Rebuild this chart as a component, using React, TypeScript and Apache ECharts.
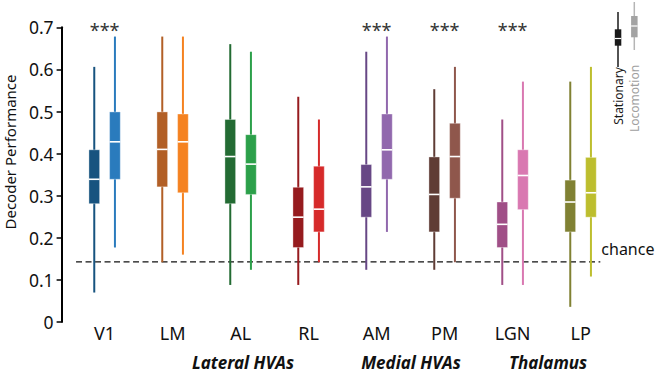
import React, { useEffect, useRef } from "react";
import * as echarts from "echarts";

const categories = ["V1", "LM", "AL", "RL", "AM", "PM", "LGN", "LP"];
// [min, q1, median, q3, max]
const stationary = [
  [0.07, 0.281, 0.339, 0.409, 0.606],
  [0.142, 0.321, 0.41, 0.499, 0.678],
  [0.088, 0.281, 0.393, 0.481, 0.66],
  [0.088, 0.177, 0.249, 0.32, 0.535],
  [0.124, 0.249, 0.321, 0.374, 0.642],
  [0.124, 0.214, 0.303, 0.392, 0.553],
  [0.088, 0.177, 0.232, 0.285, 0.481],
  [0.036, 0.214, 0.285, 0.337, 0.571],
];
const locomotion = [
  [0.177, 0.339, 0.428, 0.499, 0.678],
  [0.16, 0.307, 0.428, 0.494, 0.678],
  [0.124, 0.303, 0.375, 0.445, 0.642],
  [0.142, 0.214, 0.268, 0.37, 0.481],
  [0.214, 0.339, 0.409, 0.494, 0.678],
  [0.142, 0.294, 0.393, 0.472, 0.606],
  [0.088, 0.267, 0.348, 0.409, 0.571],
  [0.108, 0.249, 0.307, 0.391, 0.606],
];
const stationaryColors = ["#17537f", "#b25f26", "#236b33", "#961b1e", "#674785", "#5f3c35", "#a04f87", "#808133"];
const locomotionColors = ["#2a7bbd", "#f58220", "#2ca04a", "#d62a2a", "#9168ad", "#8f574c", "#d978b1", "#bdbe2e"];
const significant = [true, false, false, false, true, true, true, false];
const chanceLevel = 1 / 7;
const yTicks = [0, 0.1, 0.2, 0.3, 0.4, 0.5, 0.6, 0.7];
const groups = [
  { name: "Lateral HVAs", x: 243 },
  { name: "Medial HVAs", x: 411 },
  { name: "Thalamus", x: 548 },
];

const FONT = "Noto Sans";

function boxRender(colors: string[], offFrac: number) {
  return (params: any, api: any) => {
    const idx = api.value(0);
    const lo = api.coord([idx, api.value(1)]);
    const q1 = api.coord([idx, api.value(2)]);
    const med = api.coord([idx, api.value(3)]);
    const q3 = api.coord([idx, api.value(4)]);
    const hi = api.coord([idx, api.value(5)]);
    const band = api.size([1, 0])[0];
    const x = lo[0] + offFrac * band;
    const bw = band * 0.157;
    const color = colors[params.dataIndex];
    return {
      type: "group",
      children: [
        { type: "line", shape: { x1: x, y1: hi[1], x2: x, y2: lo[1] }, style: { stroke: color, lineWidth: 2 } },
        {
          type: "rect",
          shape: { x: x - bw / 2, y: q3[1], width: bw, height: q1[1] - q3[1] },
          style: { fill: color, stroke: "rgba(255,255,255,0.35)", lineWidth: 1 },
        },
        { type: "line", shape: { x1: x - bw / 2, y1: med[1], x2: x + bw / 2, y2: med[1] }, style: { stroke: "#ffffff", lineWidth: 1.6 } },
      ],
    };
  };
}

export default function App() {
  const ref = useRef<HTMLDivElement>(null);
  useEffect(() => {
    if (!ref.current) return;
    const chart = echarts.init(ref.current, null, { renderer: "svg" });
    const statData = stationary.map((r, i) => [i, ...r]);
    const locoData = locomotion.map((r, i) => [i, ...r]);
    const sigData = significant.map((s, i) => (s ? [i, yTicks[yTicks.length - 1]] : null)).filter(Boolean);
    chart.setOption({
      animation: false,
      backgroundColor: "#ffffff",
      textStyle: { fontFamily: FONT },
      grid: { left: 70.6, right: 45.4, top: 27.3, bottom: 50 },
      xAxis: {
        type: "category",
        data: categories,
        axisLine: { show: false },
        axisTick: { show: false },
        axisLabel: { color: "#111", fontSize: 18, fontFamily: FONT, margin: 2 },
        splitLine: { show: false },
      },
      yAxis: {
        type: "value",
        min: 0,
        max: 0.7,
        interval: 0.1,
        offset: 9,
        axisLine: { show: true, lineStyle: { color: "#000", width: 2 } },
        axisTick: { show: true, length: 5, lineStyle: { color: "#000", width: 1.5 } },
        axisLabel: { color: "#111", fontSize: 17.5, fontFamily: FONT, margin: 8 },
        splitLine: { show: false },
      },
      series: [
        {
          type: "custom",
          name: "Stationary",
          data: statData,
          encode: { x: 0, y: [1, 2, 3, 4, 5] },
          renderItem: boxRender(stationaryColors, -0.152),
        },
        {
          type: "custom",
          name: "Locomotion",
          data: locoData,
          encode: { x: 0, y: [1, 2, 3, 4, 5] },
          renderItem: boxRender(locomotionColors, 0.152),
        },
        {
          type: "custom",
          name: "chance",
          data: [[0, chanceLevel]],
          encode: { x: 0, y: 1 },
          z: 1,
          renderItem: (params: any, api: any) => {
            const a = api.coord([0, api.value(1)]);
            const b = api.coord([categories.length - 1, api.value(1)]);
            const band = api.size([1, 0])[0];
            const x1 = a[0] - 0.42 * band;
            const x2 = b[0] + 0.29 * band;
            return {
              type: "group",
              children: [
                {
                  type: "line",
                  shape: { x1, y1: a[1], x2, y2: a[1] },
                  style: { stroke: "#111", lineWidth: 1.3, lineDash: [6, 3.5] },
                },
                {
                  type: "text",
                  x: x2 + 1,
                  y: a[1] - 13,
                  style: { text: "chance", fill: "#111", font: `16px "${FONT}"`, align: "left", verticalAlign: "middle" },
                },
              ],
            };
          },
        },
        {
          type: "custom",
          name: "significance",
          data: sigData,
          encode: { x: 0, y: 1 },
          renderItem: (params: any, api: any) => {
            const p = api.coord([api.value(0), api.value(1)]);
            return {
              type: "text",
              x: p[0],
              y: p[1] + 3,
              style: { text: "***", fill: "#333", font: `18px "${FONT}"`, align: "center", verticalAlign: "middle" },
            };
          },
        },
      ],
      graphic: [
        {
          type: "text",
          x: 10,
          y: 152,
          rotation: Math.PI / 2,
          style: { text: "Decoder Performance", fill: "#111", font: `15px "${FONT}"`, align: "center", verticalAlign: "middle" },
        },
        ...groups.map((g) => ({
          type: "text",
          x: g.x,
          y: 362,
          style: {
            text: g.name,
            fill: "#111",
            font: `italic bold 17px "${FONT}"`,
            lineHeight: 17,
            align: "center",
            verticalAlign: "middle",
          },
        })),
        // legend glyphs
        { type: "line", shape: { x1: 618, y1: 12, x2: 618, y2: 67 }, style: { stroke: "#1a1a1a", lineWidth: 1.5 } },
        { type: "rect", shape: { x: 614.8, y: 29.3, width: 6.5, height: 16.4 }, style: { fill: "#1a1a1a" } },
        { type: "line", shape: { x1: 614.8, y1: 38.5, x2: 621.3, y2: 38.5 }, style: { stroke: "#fff", lineWidth: 1.2 } },
        { type: "line", shape: { x1: 634.3, y1: 2, x2: 634.3, y2: 50 }, style: { stroke: "#b5b5b5", lineWidth: 1.5 } },
        { type: "rect", shape: { x: 631.1, y: 16, width: 6.5, height: 21.3 }, style: { fill: "#a3a3a3" } },
        { type: "line", shape: { x1: 631.1, y1: 26, x2: 637.6, y2: 26 }, style: { stroke: "#fff", lineWidth: 1.2 } },
        {
          type: "text",
          x: 618,
          y: 96,
          rotation: Math.PI / 2,
          style: { text: "Stationary", fill: "#1a1a1a", font: `12px "${FONT}"`, align: "center", verticalAlign: "middle" },
        },
        {
          type: "text",
          x: 634.5,
          y: 98.5,
          rotation: Math.PI / 2,
          style: { text: "Locomotion", fill: "#a0a0a0", font: `12px "${FONT}"`, align: "center", verticalAlign: "middle" },
        },
      ],
    });
    return () => chart.dispose();
  }, []);
  return (
    <div
      ref={ref}
      style={{ position: "fixed", left: 0, top: 0, width: 660, height: 372, background: "#fff" }}
    />
  );
}
